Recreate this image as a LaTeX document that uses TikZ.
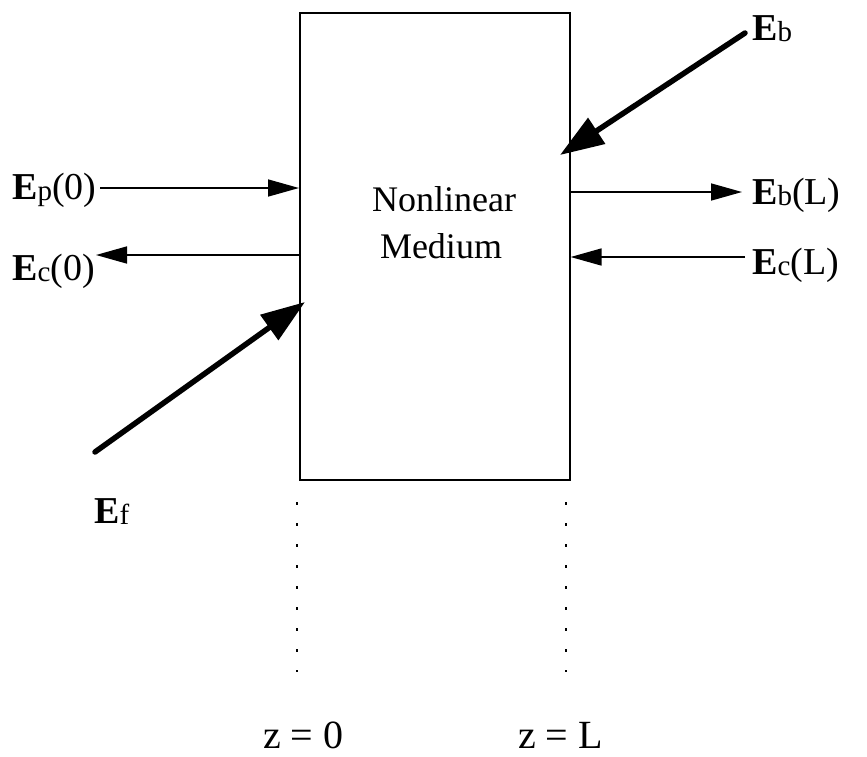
\documentclass[tikz,border=0pt]{standalone}
\usepackage{fontspec}
\setmainfont{Liberation Serif}
\usetikzlibrary{arrows.meta}
\newcommand{\subl}[1]{\raisebox{-1.5pt}{\fontsize{29}{29}\selectfont #1}}
\begin{document}
\begin{tikzpicture}[x=1pt,y=-1pt,
  thinarrow/.style={line width=1.6pt, -{Triangle[length=31pt,width=17pt]}},
  thickarrow/.style={line width=5.5pt, line cap=round, -{Triangle[length=44pt,width=30pt]}},
  lbl/.style={inner sep=0pt, anchor=base west, font=\fontsize{38}{38}\selectfont},
  mtext/.style={inner sep=0pt, anchor=base, font=\fontsize{36}{36}\selectfont},
  ztext/.style={inner sep=0pt, anchor=base west, font=\fontsize{40}{40}\selectfont},
  dotline/.style={line width=1.2pt, dash pattern=on 3pt off 18pt}]
\useasboundingbox (0,0) rectangle (867,756);
\node[draw, line width=1.6pt, minimum width=270pt, minimum height=467pt, inner sep=0pt, anchor=north west] (box) at (299,12) {};
\node[mtext] (t1) at (444,211) {Nonlinear};
\node[mtext] (t2) at (441,258) {Medium};
% left side
\coordinate (ep0s) at (100,188);
\coordinate (ec0e) at (96,255);
\draw[thinarrow] (ep0s) -- (box.west |- ep0s);
\draw[thinarrow] (box.west |- ec0e) -- (ec0e);
\node[lbl] (lep) at (12,199) {\textbf{E}\subl{p}(0)};
\node[lbl] (lec) at (12,280) {\textbf{E}\subl{c}(0)};
% right side
\coordinate (ebLe) at (742,192);
\coordinate (ecLs) at (745,257);
\draw[thinarrow] (box.east |- ebLe) -- (ebLe);
\draw[thinarrow] (ecLs) -- (box.east |- ecLs);
\node[lbl] (lebL) at (752,204) {\textbf{E}\subl{b}(L)};
\node[lbl] (lecL) at (752,274) {\textbf{E}\subl{c}(L)};
% thick arrows
\coordinate (ebs) at (745,33);
\coordinate (ebt) at (560,155);
\draw[thickarrow] (ebs) -- (ebt);
\node[lbl] (leb) at (752,40) {\textbf{E}\subl{b}};
\coordinate (efs) at (95,452);
\coordinate (eft) at (305,302);
\draw[thickarrow] (efs) -- (eft);
\node[lbl] (lef) at (94,523) {\textbf{E}\subl{f}};
% dotted lines
\coordinate (d0a) at (297,502);
\coordinate (d0b) at (297,672);
\coordinate (dLa) at (566,502);
\coordinate (dLb) at (566,672);
\draw[dotline] (d0a) -- (d0b);
\draw[dotline] (dLa) -- (dLb);
\node[ztext] (z0) at (263,748) {z = 0};
\node[ztext] (zL) at (518,748) {z = L};
\end{tikzpicture}
\end{document}
